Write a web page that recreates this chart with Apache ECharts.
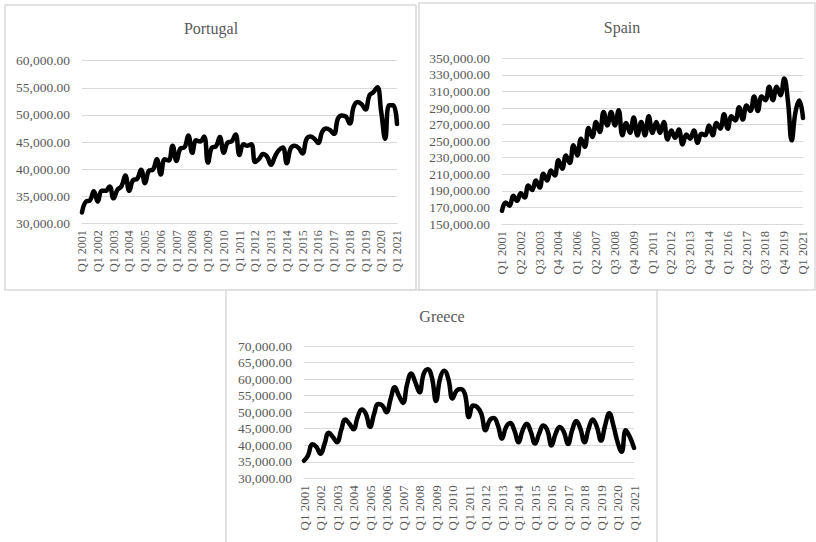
<!DOCTYPE html>
<html>
<head>
<meta charset="utf-8">
<script src="https://cdn.jsdelivr.net/npm/echarts@6/dist/echarts.min.js"></script>
<style>
html,body{margin:0;padding:0;background:#fff;}
#chart{width:816px;height:542px;}
</style>
</head>
<body>
<div id="chart"></div>
<script>
// Quarter categories Q1 2001 .. Q1 2021
const quarters = [];
for (let y = 2001; y <= 2021; y++) {
  for (let q = 1; q <= 4; q++) {
    if (y === 2021 && q > 1) break;
    quarters.push('Q' + q + ' ' + y);
  }
}

const portugal = [
  32000,34000,34200,35900, 34000,36000,36000,36800, 34600,36200,36800,38800,
  36000,38000,38200,39900, 37400,39700,39900,41800, 39000,41800,41600,44300,
  41500,43800,44000,46200, 43000,45300,45100,46000, 41200,44000,44200,45900,
  43000,44900,45100,46400, 42600,44600,44300,44600, 41300,41900,42800,42300,
  40800,42300,43500,44000, 41100,43800,44300,43900, 42900,45500,46000,45600,
  44800,46900,47500,47200, 46500,49300,49900,49700, 48400,51500,52400,52000,
  51000,53600,54200,55100, 50500,45600,51800,51800, 48300
];

const spain = [
  166000,176000,172000,184000, 178000,187000,182000,196500, 191000,202500,194000,210600,
  202500,214600,208600,226800, 216700,232800,223500,245000, 232800,253000,243000,266000,
  255000,273000,261000,285300, 269000,285300,269000,287400, 257000,272000,260000,278500,
  257000,273000,257000,280000, 260000,273000,260000,273000, 252000,263000,254000,264000,
  246000,258000,253000,263000, 248000,259000,257000,269000, 257000,272000,265000,282500,
  265000,280000,275000,291000, 276000,293000,286500,304000, 286500,304000,299500,315600,
  299500,315600,305500,325700, 298000,251000,285000,299000, 278000
];

const greece = [
  35300,37000,40300,39500, 37400,40500,43800,42500, 40900,44500,47800,46500,
  44800,48500,50800,49500, 45500,49500,52500,52000, 50000,54000,57500,55000,
  52800,58500,61700,59000, 56000,61500,63000,60500, 53400,60200,62500,60000,
  54100,56500,57000,55500, 48500,52000,51500,49500, 44500,47500,48200,46000,
  42000,45500,46700,44500, 40900,44500,46500,44000, 40500,43500,46000,44500,
  39900,43500,45500,44000, 40400,44500,47300,45000, 40900,45000,47800,45500,
  41400,46000,49700,46000, 41000,38000,44500,42500, 39200
];

const titles = ['Portugal', 'Spain', 'Greece'];

function fmt(v) {
  const s = Math.round(v).toString().replace(/\B(?=(\d{3})+(?!\d))/g, ',');
  return s + '.00';
}

const FONT = '"Liberation Serif", "Times New Roman", serif';
const GRAY = '#595959';
const GRID = '#d9d9d9';

const grids = [
  {left: 82, top: 60.7, width: 315, height: 162.6},
  {left: 502, top: 58.3, width: 301, height: 165.7},
  {left: 304, top: 346, width: 330, height: 132.3}
];
const yRanges = [
  {min: 30000, max: 60000, interval: 5000},
  {min: 150000, max: 350000, interval: 20000},
  {min: 30000, max: 70000, interval: 5000}
];
const labelEvery = [3, 4, 3];
const xFont = [12, 12.5, 13];
const seriesData = [portugal, spain, greece];
const titlePos = [[211, 28], [622, 27], [442, 316]];

const chart = echarts.init(document.getElementById('chart'), null, {renderer: 'svg'});

const option = {
  backgroundColor: '#ffffff',
  animation: false,
  title: titles.map((t, i) => ({
    text: t,
    left: titlePos[i][0],
    top: titlePos[i][1],
    textAlign: 'center',
    textVerticalAlign: 'middle',
    padding: 0,
    textStyle: {fontFamily: FONT, fontSize: 16, fontWeight: 'normal', color: GRAY}
  })),
  graphic: [
    {type: 'rect', shape: {x: 5, y: 5, width: 411, height: 285}, style: {fill: 'none', stroke: GRID, lineWidth: 1.5}, z: -1},
    {type: 'rect', shape: {x: 419, y: 3, width: 396, height: 287}, style: {fill: 'none', stroke: GRID, lineWidth: 1.5}, z: -1},
    {type: 'rect', shape: {x: 226, y: 290, width: 431, height: 260}, style: {fill: '#fff', stroke: GRID, lineWidth: 1.5}, z: -1}
  ],
  grid: grids.map(g => Object.assign({containLabel: false}, g)),
  xAxis: grids.map((g, i) => ({
    type: 'category',
    gridIndex: i,
    data: quarters,
    boundaryGap: false,
    axisLine: {show: true, lineStyle: {color: GRID, width: 1}},
    axisTick: {show: false},
    axisLabel: {
      interval: labelEvery[i],
      rotate: 90,
      margin: 7,
      fontFamily: FONT,
      fontSize: xFont[i],
      color: GRAY
    },
    splitLine: {show: false}
  })),
  yAxis: grids.map((g, i) => ({
    type: 'value',
    gridIndex: i,
    min: yRanges[i].min,
    max: yRanges[i].max,
    interval: yRanges[i].interval,
    axisLine: {show: false},
    axisTick: {show: false},
    axisLabel: {
      margin: 12,
      fontFamily: FONT,
      fontSize: 13.5,
      color: GRAY,
      formatter: fmt
    },
    splitLine: {show: true, lineStyle: {color: GRID, width: 1}}
  })),
  series: seriesData.map((d, i) => ({
    name: titles[i],
    type: 'line',
    xAxisIndex: i,
    yAxisIndex: i,
    data: d,
    smooth: 0.45,
    symbol: 'none',
    lineStyle: {color: '#000000', width: 4.5, cap: 'round', join: 'round'}
  }))
};

chart.setOption(option);
</script>
</body>
</html>
